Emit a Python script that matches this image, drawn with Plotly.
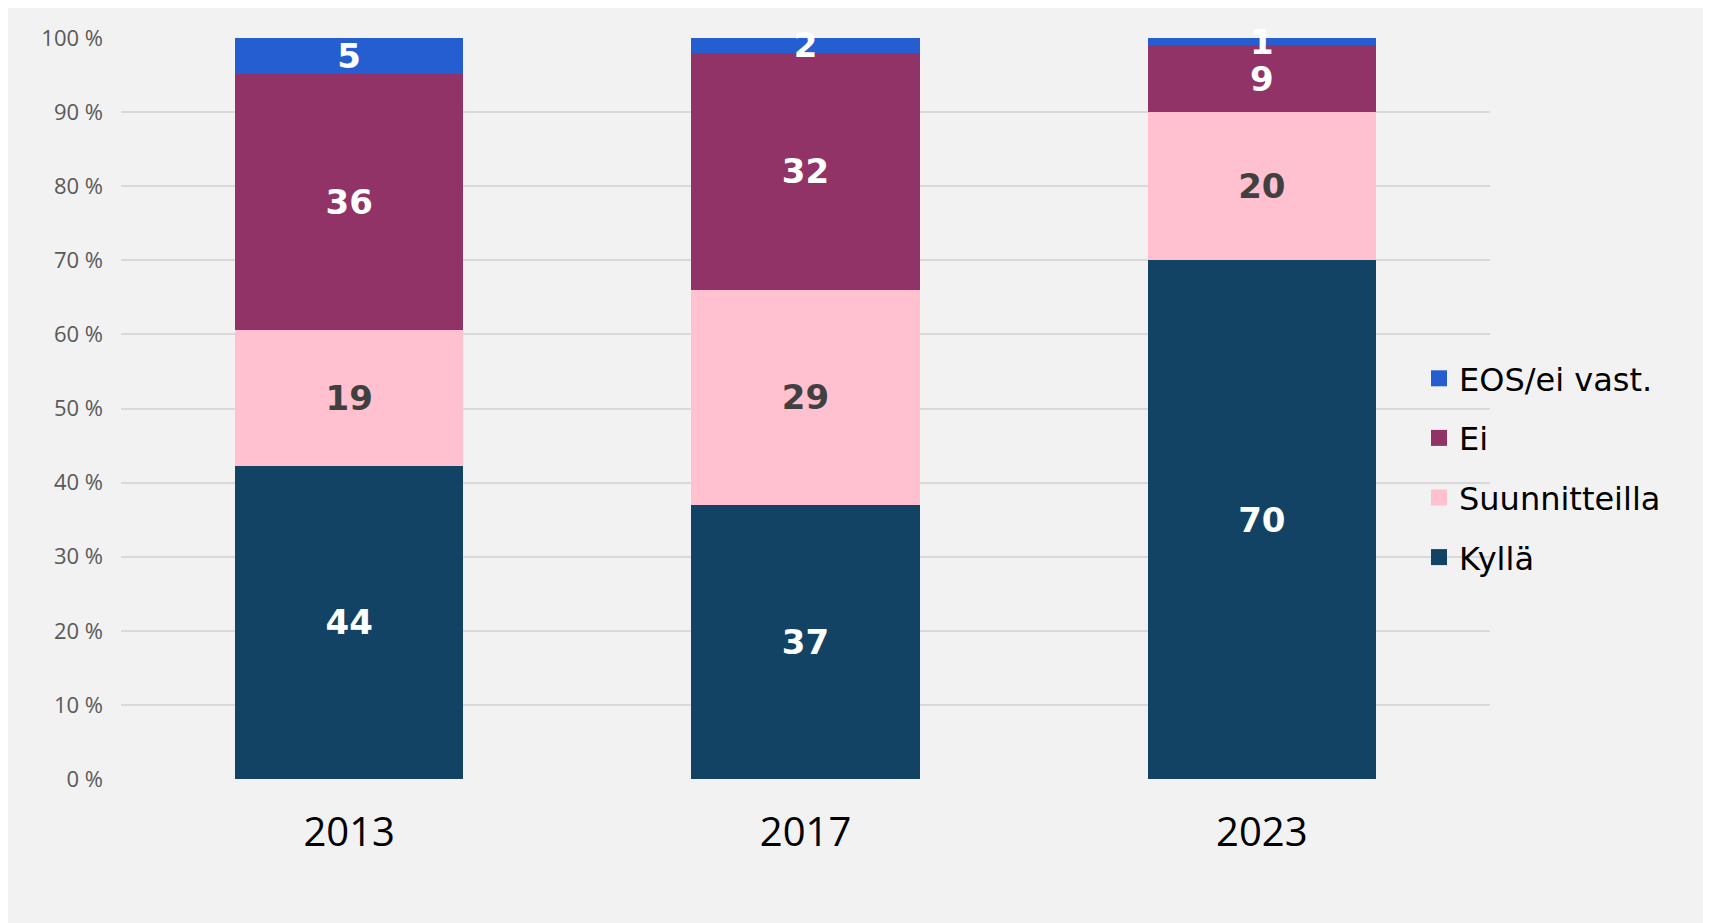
import plotly.graph_objects as go

# --- data ---
years = ["2013", "2017", "2023"]
kylla = [44, 37, 70]
suunnitteilla = [19, 29, 20]
ei = [36, 32, 9]
eos = [5, 2, 1]

series_names = ["Kyllä", "Suunnitteilla", "Ei", "EOS/ei vast."]
series_values = [kylla, suunnitteilla, ei, eos]
series_colors = ["#124364", "#ffc0cf", "#913366", "#245ed1"]
label_colors = ["#ffffff", "#404040", "#ffffff", "#ffffff"]
legend_ranks = [4, 3, 2, 1]

y_ticks = [0, 10, 20, 30, 40, 50, 60, 70, 80, 90, 100]
y_ticktext = [f"{v} %" for v in y_ticks]

FONT = "Open Sans"
LABEL_FONT = "DejaVu Sans"
LEGEND_FONT = "DejaVu Sans"

# --- plot area (px); page has 8px body margin, figure runs past the window edge ---
PW, PH = 1369, 741
L, T = 113, 30
W, H = 1730, 930
R, B = W - L - PW, H - T - PH

fig = go.Figure()

for name, vals, col, lcol, rank in zip(series_names, series_values, series_colors,
                                       label_colors, legend_ranks):
    fig.add_trace(go.Bar(
        x=years, y=vals, name=name, showlegend=False,
        marker=dict(color=col, line=dict(width=0)),
        text=[str(v) for v in vals],
        textposition="inside", insidetextanchor="middle",
        textangle=0, constraintext="none", cliponaxis=False,
        textfont=dict(family=LABEL_FONT, size=34, color=lcol, weight="bold"),
        hoverinfo="skip",
    ))
    # legend entry with a larger square swatch
    fig.add_trace(go.Scatter(
        x=[None], y=[None], mode="markers", name=name,
        legendgroup=name, legendrank=rank,
        marker=dict(symbol="square", size=20, color=col),
        hoverinfo="skip",
    ))

fig.update_layout(
    width=W, height=H,
    margin=dict(l=L, r=R, t=T, b=B, pad=0),
    paper_bgcolor="#f2f2f2", plot_bgcolor="#f2f2f2",
    barmode="stack", barnorm="percent", bargap=0.5,
    showlegend=True,
    legend=dict(
        x=(1411 - L) / PW, xanchor="left",
        y=(T + PH - 460) / PH, yanchor="middle",
        traceorder="grouped", tracegroupgap=15,
        itemsizing="trace",
        font=dict(family=LEGEND_FONT, size=32, color="#000000"),
        bgcolor="rgba(0,0,0,0)",
    ),
    font=dict(family=FONT),
)

fig.update_xaxes(
    showgrid=False, showline=False, zeroline=False, ticks="",
    tickfont=dict(family=FONT, size=40, color="#000000"),
    ticklabelstandoff=26,
)
fig.update_yaxes(
    range=[0, 100], tickvals=y_ticks, ticktext=y_ticktext,
    showgrid=True, gridcolor="#d9d9d9", gridwidth=2,
    zeroline=False, showline=False, ticks="",
    tickfont=dict(family=FONT, size=22, color="#595959"),
    ticklabelstandoff=17,
)

fig.write_html("out.html", post_script="document.body.style.overflow='hidden';")
